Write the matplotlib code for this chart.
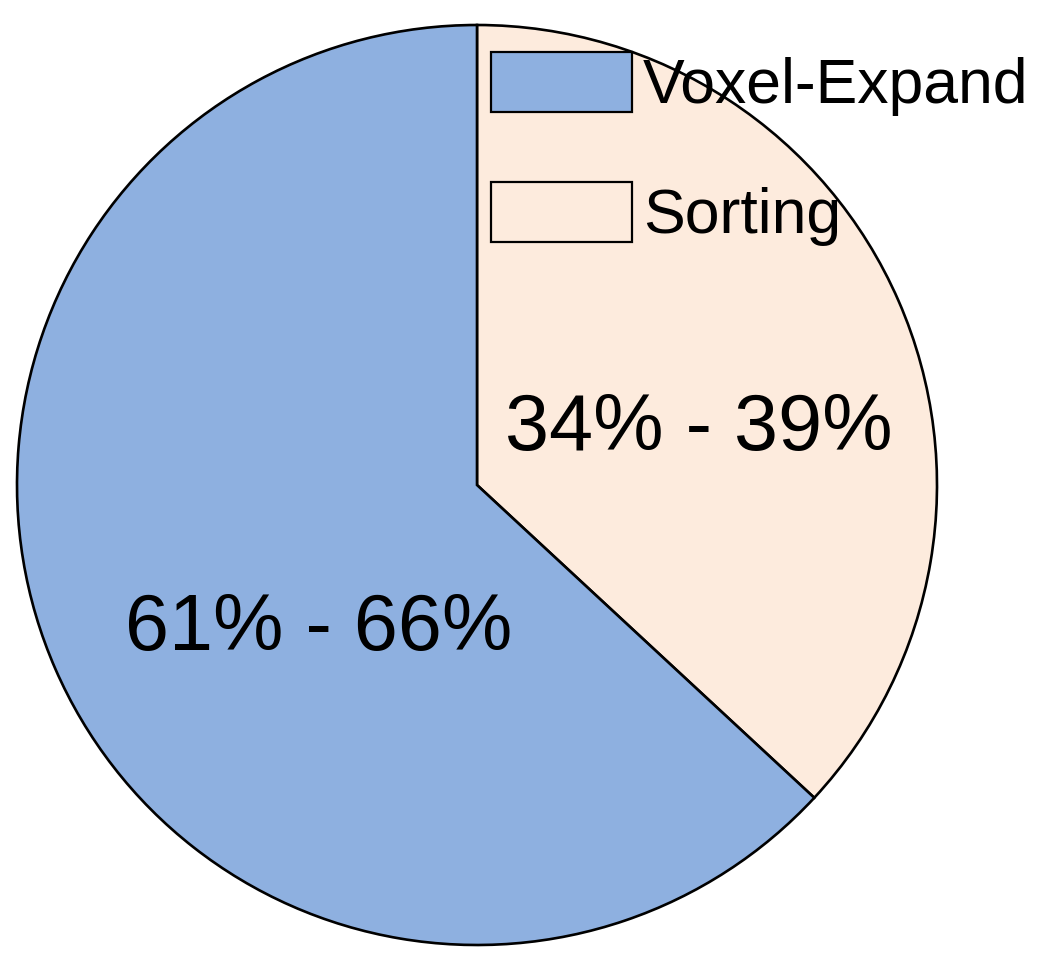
import matplotlib.pyplot as plt
from matplotlib.patches import Patch

# share of time (midpoints of the reported ranges), drawn clockwise from 12 o'clock
slice_names = ["Sorting", "Voxel-Expand"]
slice_values = [36.9, 63.1]
slice_colors = ["#FDEBDD", "#8EB0E0"]
range_labels = ["34% - 39%", "61% - 66%"]
legend_order = ["Voxel-Expand", "Sorting"]


def main():
    plt.rcParams["font.family"] = ["Liberation Sans", "DejaVu Sans"]
    fig = plt.figure(figsize=(10.55, 9.61), dpi=100)
    ax = fig.add_axes([0, 0, 1, 1])

    ax.pie(slice_values, colors=slice_colors, startangle=90, counterclock=False,
           radius=1.0, wedgeprops=dict(edgecolor="black", linewidth=1.9))

    # label positions as (x, y) inside the pie, in units of the radius
    label_pos = [(0.483, 0.12), (-0.345, -0.315)]
    for txt, (x, y) in zip(range_labels, label_pos):
        ax.text(x, y, txt, fontsize=57, ha="center", va="center")

    handles = [Patch(facecolor=slice_colors[slice_names.index(n)], edgecolor="black",
                     linewidth=1.6, label=n) for n in legend_order]
    ax.legend(handles=handles, loc="upper left", bbox_to_anchor=(491 / 1055, 1 - 52 / 961),
              bbox_transform=fig.transFigure, frameon=False, fontsize=45,
              handlelength=2.25, handleheight=1.1, handletextpad=0.18,
              labelspacing=1.05, borderpad=0, borderaxespad=0)

    ax.set_xlim(-477 / 460, (1055 - 477) / 460)
    ax.set_ylim((485 - 961) / 460, 485 / 460)
    ax.set_aspect("auto")
    ax.axis("off")
    fig.savefig("out.png", dpi=100, facecolor="white")


if __name__ == "__main__":
    main()
